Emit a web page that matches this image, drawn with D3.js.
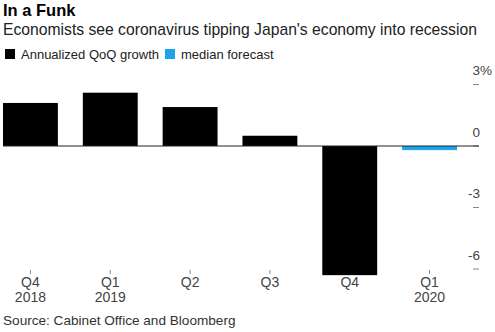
<!DOCTYPE html>
<html>
<head>
<meta charset="utf-8">
<script src="https://cdn.jsdelivr.net/npm/d3@7"></script>
<style>
  html, body { margin: 0; padding: 0; background: #fff; }
  svg { display: block; font-family: "Liberation Sans", Arial, sans-serif; }
</style>
</head>
<body>
<svg id="chart" width="495" height="332"></svg>
<script>
// Quarterly annualized GDP growth, %
const quarters = ["Q4 2018", "Q1 2019", "Q2", "Q3", "Q4", "Q1 2020"];
const actual = [2.1, 2.6, 1.9, 0.5, -6.3, null];
const forecast = [null, null, null, null, null, -0.2];
const yTicks = [3, 0, -3, -6];

const svg = d3.select("#chart");

const x = d3.scaleBand()
  .domain(quarters)
  .range([3, 457])
  .paddingInner(0.3125)
  .paddingOuter(0);

const y = d3.scaleLinear()
  .domain([-6, 3])
  .range([269, 84.5]);

// Title block
svg.append("text").attr("x", 3).attr("y", 16)
  .attr("font-size", 16.5).attr("font-weight", "bold").attr("fill", "#000")
  .text("In a Funk");
svg.append("text").attr("x", 3).attr("y", 35)
  .attr("font-size", 15.7).attr("fill", "#222")
  .text("Economists see coronavirus tipping Japan's economy into recession");

// Legend
const legend = [
  { label: "Annualized QoQ growth", color: "#000", x: 5 },
  { label: "median forecast", color: "#1ba3ec", x: 165 }
];
const lg = svg.selectAll("g.legend").data(legend).enter().append("g")
  .attr("class", "legend")
  .attr("transform", d => `translate(${d.x},49)`);
lg.append("rect").attr("width", 10).attr("height", 10).attr("fill", d => d.color);
lg.append("text").attr("x", 16).attr("y", 9.5)
  .attr("font-size", 13).attr("fill", "#222").text(d => d.label);

// Y axis: short ticks at the right with labels above them
const yAxis = svg.append("g");
yAxis.selectAll("line").data(yTicks).enter().append("line")
  .attr("x1", 473).attr("x2", 479)
  .attr("y1", d => y(d)).attr("y2", d => y(d))
  .attr("stroke", "#888").attr("stroke-width", 1);
yAxis.selectAll("text").data(yTicks).enter().append("text")
  .attr("x", 480).attr("y", d => y(d) - 9.5)
  .attr("text-anchor", "end")
  .attr("font-size", 13.5).attr("fill", "#444")
  .text(d => d);
yAxis.append("text")
  .attr("x", 480).attr("y", y(3) - 9.5)
  .attr("font-size", 13.5).attr("fill", "#444")
  .text("%");

// Bars
svg.selectAll("rect.actual")
  .data(quarters.map((q, i) => ({ q, v: actual[i] })).filter(d => d.v !== null))
  .enter().append("rect").attr("class", "actual")
  .attr("x", d => x(d.q))
  .attr("width", x.bandwidth())
  .attr("y", d => y(Math.max(0, d.v)))
  .attr("height", d => Math.abs(y(d.v) - y(0)))
  .attr("fill", "#000");

svg.selectAll("rect.forecast")
  .data(quarters.map((q, i) => ({ q, v: forecast[i] })).filter(d => d.v !== null))
  .enter().append("rect").attr("class", "forecast")
  .attr("x", d => x(d.q))
  .attr("width", x.bandwidth())
  .attr("y", d => y(Math.max(0, d.v)))
  .attr("height", d => Math.abs(y(d.v) - y(0)))
  .attr("fill", "#1ba3ec");

// Zero line
svg.append("line")
  .attr("x1", 3).attr("x2", 479)
  .attr("y1", y(0)).attr("y2", y(0))
  .attr("stroke", "#222").attr("stroke-width", 1);

// X axis ticks and two-line labels
const xg = svg.selectAll("g.xtick").data(quarters).enter().append("g")
  .attr("class", "xtick")
  .attr("transform", d => `translate(${x(d) + x.bandwidth() / 2},0)`);
xg.filter(d => d !== "Q4").append("line")
  .attr("y1", 270).attr("y2", 274)
  .attr("stroke", "#888");
xg.append("text")
  .attr("text-anchor", "middle").attr("font-size", 14).attr("fill", "#444")
  .each(function (d) {
    const parts = d.split(" ");
    const t = d3.select(this);
    parts.forEach((p, i) => {
      t.append("tspan").attr("x", 0).attr("y", 287 + i * 15).text(p);
    });
  });

// Source
svg.append("text").attr("x", 3).attr("y", 325)
  .attr("font-size", 13.6).attr("fill", "#333")
  .text("Source: Cabinet Office and Bloomberg");
</script>
</body>
</html>
